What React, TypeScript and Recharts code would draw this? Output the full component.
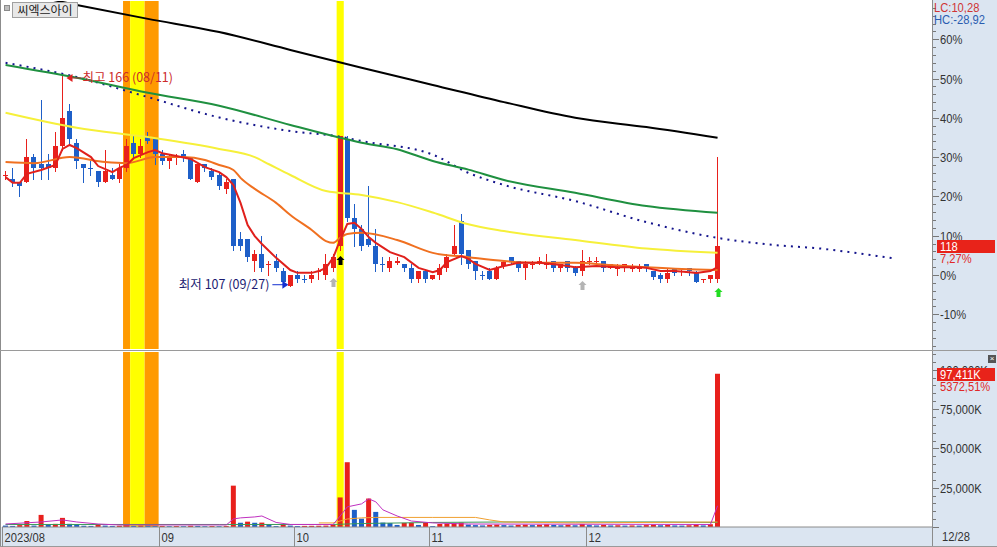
import React from "react";
import {
  ComposedChart,
  Bar,
  Line,
  XAxis,
  YAxis,
  ReferenceArea,
  ReferenceDot,
  Cell,
} from "recharts";

// ---------- data ----------
const stockName = "씨엑스아이";
const monthStarts = [0, 22, 41, 60, 82];
const monthLabels = ["2023/08", "09", "10", "11", "12"];
const lastDate = "12/28";
const infoLC = "LC:10,28";
const infoHC = "HC:-28,92";
const lastPctLabel = "7,27%";
const lastVolPctLabel = "5372,51%";
const prevClose = 110; // 0% line

// open, high, low, close  (2023/08/01 .. 2023/12/28)
const candles: [number, number, number, number][] = [
  // 08
  [138, 139, 137, 138], [137, 140, 135, 136], [136, 136, 132, 135], [136, 148, 136, 143], [143, 144, 137, 140],
  [141, 159, 137, 140], [141, 144, 137, 140], [140, 150, 139, 146], [146, 166, 145, 154], [156, 158, 147, 148],
  [147, 148, 140, 142], [141, 141, 136, 140], [140, 142, 138, 139.7], [139, 139, 135, 136], [136, 145, 136, 139],
  [138, 140, 137, 137], [137, 141, 136, 140], [140, 148, 139, 146], [147, 149, 143, 144], [144, 148, 143, 146],
  [149, 150, 147, 147.5], [148, 148, 141, 144],
  // 09
  [144, 145, 141, 142], [142, 144, 140, 143], [143, 144, 141, 143], [144, 145, 142, 143], [143, 143, 137, 137],
  [136, 141, 136, 141], [141, 141, 139, 140], [139, 140, 137, 137.5], [138, 138.5, 134, 135], [134, 137, 133, 136],
  [137, 137, 117, 118], [120, 122, 117, 118], [120, 120, 114, 115], [114, 117, 111, 116], [116, 121, 111, 112],
  [113, 114, 110, 113], [114, 116, 111, 112], [111, 112, 107.5, 108], [107, 110, 107, 110],
  // 10
  [110, 111, 108, 109], [109, 110, 108, 108.7], [109, 111, 108, 110], [111, 112, 109, 111], [110, 116, 109, 113],
  [112, 116, 111, 115], [118, 149, 117, 149], [148, 149, 125, 126], [126, 130, 118, 123], [123, 124, 117, 118],
  [120, 135, 118, 118.5], [118, 123, 111, 113], [113, 115, 111, 112.7], [112, 115, 111, 114], [113.5, 115, 113, 114],
  [113, 113, 111, 112], [112, 113, 108, 109], [109, 111, 108, 111], [111, 111, 108, 109],
  // 11
  [109, 110, 109, 110], [110, 113, 109, 112], [112, 116, 111, 115], [116, 124, 116, 118], [125, 127, 113, 116],
  [117, 117, 112, 113], [114, 114, 109, 111], [110, 111, 109, 109.7], [111, 112, 109, 109], [109, 112.5, 109, 112],
  [112.5, 114, 112, 113.6], [115, 115, 113.5, 114], [114, 114, 111, 112], [112, 114, 109, 113], [113, 114, 112, 113],
  [113, 115, 113, 114], [113, 116, 112, 113], [114, 114, 111, 112], [112, 113, 111, 113], [114, 114, 111, 112],
  [112, 112.5, 110, 110.5], [111, 117, 110, 114],
  // 12
  [114, 115, 113, 114], [114, 115, 113, 114], [114, 114, 111, 112], [112, 113, 112, 113], [112, 113, 110, 112],
  [112, 113, 111, 113], [112, 113, 111, 112], [112, 113, 111, 112], [113, 113, 111, 112], [111, 111, 109, 109.5],
  [110, 110.5, 108, 109], [109, 112, 108, 110.5], [112, 112, 110, 110.5], [111, 112, 110, 111], [112, 112, 110, 111],
  [110.5, 111, 108, 108], [109, 109, 108, 109], [109, 110, 108, 110], [109, 143, 108, 118],
];

// volume, thousand shares
const volumes = [
  900, 700, 1200, 3800, 900, 7700, 1900, 2000, 5800, 2000, 1900, 800, 700, 1900,
  900, 700, 800, 1100, 700, 900, 800, 600, 700, 500, 600, 500, 800, 700, 500, 600, 500, 700,
  26300, 2700, 3400, 2700, 2800, 1700, 600, 1300, 900, 600, 700, 750, 800, 900, 1300,
  18800, 41200, 10900, 5300, 18100, 9600, 2800, 2500, 1300, 2600, 2700, 1300, 2600, 600, 1900, 2200, 2500, 2800,
  1500, 1200, 1000, 1300, 1500, 1200, 1000, 1300, 1500, 1200, 1400, 1700, 1300, 1100, 1400, 1100, 1900, 1200,
  1000, 1300, 1000, 1100, 900, 1000, 900, 1200, 1500, 1100, 1400, 1000, 900, 1100, 1600, 1000, 1780, 97411,
];

// moving averages: [day index, price]
const ma5Pts: [number, number][] = [
  [0, 137.4], [1, 135.8], [2, 135.8], [3, 138.3], [5, 139.4], [7, 140.8], [8, 145.3], [9, 146.4], [10, 145.5],
  [12, 143.0], [13, 140.5], [15, 138.8], [16, 140.0], [17, 140.8], [18, 142.7], [20, 144.4], [21, 145.0],
  [22, 144.1], [24, 143.3], [26, 142.5], [28, 140.2], [30, 138.8], [31, 137.4], [32, 135.2], [33, 130.2],
  [34, 124.0], [35, 120.9], [36, 118.7], [38, 114.8], [40, 111.4], [41, 110.6], [43, 110.6], [44, 111.1],
  [45, 112.0], [46, 114.8], [47, 119.8], [48, 124.3], [49, 124.6], [50, 122.9], [51, 120.6], [52, 119.0],
  [54, 116.4], [56, 115.0], [58, 112.0], [60, 110.8], [61, 111.4], [62, 113.6], [64, 115.3], [65, 114.5],
  [66, 113.1], [68, 111.4], [70, 112.5], [72, 113.4], [75, 113.4], [78, 112.8], [80, 112.2], [83, 112.5],
  [86, 112.2], [89, 112.2], [90, 112.0], [92, 111.1], [94, 111.1], [96, 110.8], [97, 110.6], [99, 111.1],
  [100, 112.2],
];
const ma20Pts: [number, number][] = [
  [0, 141.6], [4, 141.3], [9, 143.0], [14, 141.6], [17, 141.3], [21, 143.0], [25, 143.0], [28, 142.2],
  [30, 140.8], [32, 139.4], [33, 137.2], [35, 134.1], [38, 130.2], [40, 126.8], [43, 122.6], [45, 119.5],
  [46, 119.0], [47, 120.4], [48, 121.5], [50, 121.8], [55, 119.8], [60, 116.2], [65, 115.0], [70, 113.9],
  [75, 113.4], [80, 113.4], [85, 112.8], [90, 112.2], [95, 111.7], [100, 111.4],
];
const ma60Pts: [number, number][] = [
  [0, 155.4], [10, 151.2], [20, 148.6], [30, 145.3], [35, 143.0], [37, 141.0], [40, 138.0], [45, 133.5],
  [50, 132.4], [55, 130.4], [60, 127.5], [65, 124.2], [70, 122.3], [80, 119.8], [90, 117.4], [100, 116.2],
];
const ma120Pts: [number, number][] = [
  [0, 168.8], [10, 165.2], [20, 161.0], [30, 157.4], [40, 152.0], [47, 148.4], [50, 147.0], [55, 145.2],
  [60, 141.9], [65, 139.5], [70, 136.6], [80, 133.0], [90, 129.3], [100, 127.4],
];
const ma240Pts: [number, number][] = [
  [0, 189.8], [10, 185.6], [20, 181.7], [30, 178.0], [40, 173.0], [50, 168.0], [60, 163.2], [70, 158.4],
  [80, 154.0], [90, 151.4], [100, 148.4],
];
const spanPts: [number, number][] = [
  [0, 169.4], [10, 165.4], [20, 159.8], [30, 154.1], [40, 150.3], [47, 148.7], [50, 147.5], [60, 143.7],
  [65, 138.6], [70, 135.2], [80, 130.7], [90, 124.8], [100, 120.4], [108, 118.4], [115, 117.3], [120, 116.0],
  [125, 114.6],
];

// volume averages, thousand shares
const volMa5Pts: [number, number][] = [
  [0, 1900], [5, 3200], [8, 4500], [10, 3200], [13, 1900], [16, 1300], [31, 1300], [32, 5100], [33, 5800],
  [35, 6400], [36, 7000], [38, 2900], [40, 1600], [46, 1600], [47, 7000], [48, 12800], [50, 14700],
  [51, 17900], [52, 16000], [53, 10900], [55, 7000], [57, 3800], [60, 2600], [65, 1900], [99, 1600],
  [100, 13500],
];
const volMa20Pts: [number, number][] = [
  [44, 2600], [46, 2600], [47, 3800], [48, 5100], [50, 5800], [52, 6100], [60, 6100], [66, 6100], [68, 4500],
  [70, 3200], [80, 2600], [100, 3200],
];
const volMa60Pts: [number, number][] = [
  [0, 1600], [30, 1600], [46, 1600], [50, 2200], [60, 2900], [70, 3200], [80, 3200], [92, 3200], [100, 2900],
];

// signal arrows: [day index, price]
const sigBlack: [number, number][] = [[47, 113.9]];
const sigGray: [number, number][] = [[46, 107.8], [81, 106.9]];
const sigGreen: [number, number][] = [[100, 105.1]];

const highMark = { i: 8, price: 166, label: "최고 166 (08/11)" };
const lowMark = { i: 40, price: 107, label: "최저 107 (09/27)" };

const orangeBands: [number, number][] = [[17, 17], [20, 21]];
const yellowBands: [number, number][] = [[18, 19], [47, 47]];

// ---------- layout ----------
const W = 997;
const H = 547;
const AXIS_W = 65;
const AX = W - AXIS_W; // 932
const PLOT_L = 2;
const N_SLOTS = 131;
const SLOT = 7.12;
const PAD_R = AX - PLOT_L - SLOT * N_SLOTS;
const PRICE_H = 350;
const P_MAX = 186.7;
const P_MIN = 89.29;
const VOL_TOP = 351;
const VOL_H = 196;
const STRIP_H = 20;
const V_MAX = 111300;

const RED = "#e8201c";
const BLUE = "#1e5fc8";
const PANEL = "#dbe5f1";
const LINE_GRAY = "#8c8c8c";
const NUM_FONT = '"Liberation Sans", Arial, sans-serif';
const KR_FONT = '"Noto Sans CJK KR", "Noto Sans", sans-serif';
const NARROW = 0.86;

const lastClose = candles[candles.length - 1][3];
const lastVol = volumes[volumes.length - 1];

const lookup = (pts: [number, number][]) => {
  const m = new Map(pts);
  return (i: number) => (m.has(i) ? (m.get(i) as number) : null);
};
const f5 = lookup(ma5Pts), f20 = lookup(ma20Pts), f60 = lookup(ma60Pts);
const f120 = lookup(ma120Pts), f240 = lookup(ma240Pts), fSpan = lookup(spanPts);
const fv5 = lookup(volMa5Pts), fv20 = lookup(volMa20Pts), fv60 = lookup(volMa60Pts);
const fBlack = lookup(sigBlack), fGray = lookup(sigGray), fGreen = lookup(sigGreen);

const rows = Array.from({ length: N_SLOTS }, (_, i) => {
  const cd = candles[i];
  return {
    i,
    o: cd ? cd[0] : null,
    h: cd ? cd[1] : null,
    l: cd ? cd[2] : null,
    c: cd ? cd[3] : null,
    vol: volumes[i] ?? null,
    ma5: f5(i), ma20: f20(i), ma60: f60(i), ma120: f120(i), ma240: f240(i), span: fSpan(i),
    v5: fv5(i), v20: fv20(i), v60: fv60(i),
    sb: fBlack(i), sg: fGray(i), sgr: fGreen(i),
  };
});

const volColors = volumes.map((v, i) => (i === 0 || v < volumes[i - 1] ? BLUE : RED));

const priceTicks = [
  ...Array.from({ length: 45 }, (_, k) => prevClose * (1 + (-20 + k * 2) / 100)).filter(
    (v) => v > P_MIN && v < P_MAX
  ),
  lastClose,
];
const volTicks = [...Array.from({ length: 23 }, (_, k) => k * 5000), lastVol];

// ---------- shapes ----------
function NText({ x, y, fill, children }: any) {
  return (
    <text
      transform={`translate(${x},${y}) scale(${NARROW},1)`}
      dy={4.5}
      fontSize={13}
      fill={fill}
      fontFamily={NUM_FONT}
    >
      {children}
    </text>
  );
}

function Candle(props: any) {
  const { x, y, width, height, payload } = props;
  if (payload == null || payload.h == null) return null;
  const k = height / (payload.h - P_MIN);
  const yOf = (v: number) => y + (payload.h - v) * k;
  const up = payload.c >= payload.o;
  const col = up ? RED : BLUE;
  const bx = Math.round(x + width / 2 - 2.5);
  const wx = bx + 2.5;
  const top = Math.round(yOf(Math.max(payload.o, payload.c)));
  const bot = Math.round(yOf(Math.min(payload.o, payload.c)));
  return (
    <g>
      <line x1={wx} x2={wx} y1={Math.round(yOf(payload.h))} y2={Math.round(yOf(payload.l)) + 1} stroke={col} />
      <rect x={bx} y={top} width={5} height={Math.max(1, bot - top)} fill={col} />
    </g>
  );
}

const arrowDot = (color: string) => (p: any) => {
  if (p.value == null || p.cy == null) return <g key={`a${p.index}`} />;
  const cx = Math.round(p.cx) + 0.5;
  const cy = Math.round(p.cy);
  return (
    <path
      key={`a${p.index}`}
      d={`M${cx},${cy - 5} L${cx + 4},${cy - 1} L${cx + 2},${cy - 1} L${cx + 2},${cy + 4} L${cx - 2},${cy + 4} L${cx - 2},${cy - 1} L${cx - 4},${cy - 1} Z`}
      fill={color}
    />
  );
};

function HighLabel(p: any) {
  const cx = p.cx;
  const cy = p.cy + 3;
  return (
    <g>
      <path d={`M${cx + 4},${cy} l6,-4 v8 z`} fill="#e02020" />
      <line x1={cx + 9} x2={cx + 19} y1={cy} y2={cy} stroke="#b03030" />
      <text x={cx + 20} y={cy} dy={4.5} fontSize={12.5} fill="#cc2a2a" fontFamily={KR_FONT}>
        {highMark.label}
      </text>
    </g>
  );
}

function LowLabel(p: any) {
  const cx = p.cx;
  const cy = p.cy - 1;
  return (
    <g>
      <line x1={cx - 18} x2={cx - 7} y1={cy} y2={cy} stroke="#1430d0" />
      <path d={`M${cx - 2},${cy} l-6,-4 v8 z`} fill="#1430d0" />
      <text x={cx - 21} y={cy} dy={4.5} textAnchor="end" fontSize={12.5} fill="#1c1c72" fontFamily={KR_FONT}>
        {lowMark.label}
      </text>
    </g>
  );
}

function PriceTick(props: any) {
  const { y, payload } = props;
  const v = payload.value as number;
  const yy = Math.round(y) + 0.5;
  if (v === lastClose) {
    return (
      <g>
        <rect x={AX + 5} y={Math.round(y) - 6} width={58} height={13} fill="#e8231a" />
        <NText x={AX + 8} y={yy} fill="#fff">{lastClose}</NText>
        <NText x={AX + 8} y={yy + 12} fill="#e02828">{lastPctLabel}</NText>
      </g>
    );
  }
  const pct = Math.round((v / prevClose - 1) * 100);
  const major = pct % 10 === 0;
  return (
    <g>
      <line x1={AX + 1} x2={AX + (major ? 7 : 4)} y1={yy} y2={yy} stroke="#777" />
      {major && <NText x={AX + 8} y={yy} fill="#333">{`${pct}%`}</NText>}
    </g>
  );
}

function VolTick(props: any) {
  const { y, payload } = props;
  const v = payload.value as number;
  const yy = Math.round(y) + 0.5;
  if (v === lastVol) {
    return (
      <g>
        <rect x={AX + 5} y={Math.round(y) - 6} width={58} height={13} fill="#e8231a" />
        <NText x={AX + 8} y={yy} fill="#fff">{`${v.toLocaleString("en-US")}K`}</NText>
        <NText x={AX + 8} y={yy + 12} fill="#e02828">{lastVolPctLabel}</NText>
      </g>
    );
  }
  const major = v % 25000 === 0;
  return (
    <g>
      <line x1={AX + 1} x2={AX + (major ? 7 : 4)} y1={yy} y2={yy} stroke="#777" />
      {major && v > 0 && <NText x={AX + 8} y={yy} fill="#333">{`${v.toLocaleString("en-US")}K`}</NText>}
    </g>
  );
}

function MonthTick(props: any) {
  const { x, payload } = props;
  const idx = monthStarts.indexOf(payload.value);
  const left = Math.round(x - SLOT / 2) + 0.5;
  const top = VOL_H - STRIP_H;
  return (
    <g>
      <line x1={left} x2={left} y1={top} y2={top + STRIP_H} stroke={LINE_GRAY} />
      <NText x={left + 2} y={top + 10} fill="#333">{monthLabels[idx]}</NText>
    </g>
  );
}

const bands = (
  <>
    {orangeBands.map(([a, b], k) => (
      <ReferenceArea key={`o${k}`} x1={a} x2={b} fill="#ff9a00" fillOpacity={1} stroke="none" ifOverflow="visible" />
    ))}
    {yellowBands.map(([a, b], k) => (
      <ReferenceArea key={`y${k}`} x1={a} x2={b} fill="#ffff00" fillOpacity={1} stroke="none" ifOverflow="visible" />
    ))}
  </>
);

const abs = (l: number, t: number, w: number, h: number, extra: any = {}) => ({
  position: "absolute" as const,
  left: l,
  top: t,
  width: w,
  height: h,
  ...extra,
});

const narrowCss = { transform: `scaleX(${NARROW})`, transformOrigin: "0 0", whiteSpace: "nowrap" as const };

export default function App() {
  return (
    <div style={abs(0, 0, W, H, { background: "#fff", overflow: "hidden", fontFamily: NUM_FONT })}>
      <div style={abs(AX, 0, W - AX, H, { background: PANEL, borderLeft: `1px solid ${LINE_GRAY}`, boxSizing: "border-box" })} />
      <div style={abs(0, VOL_TOP + VOL_H - STRIP_H, AX, STRIP_H, { background: PANEL })} />
      <div style={abs(0, 0, 1, H, { background: LINE_GRAY })} />
      <div style={abs(0, PRICE_H, W, 1, { background: "#9a9a9a" })} />
      <div style={abs(0, H - 1, W, 1, { background: "#9a9a9a" })} />

      {/* price panel */}
      <div style={abs(0, 0, W, PRICE_H)}>
        <ComposedChart width={W} height={PRICE_H} data={rows} margin={{ top: 1, right: 0, bottom: 1, left: PLOT_L }}>
          <XAxis dataKey="i" type="category" hide padding={{ left: 0, right: PAD_R }} />
          <YAxis
            orientation="right"
            width={AXIS_W}
            type="number"
            domain={[P_MIN, P_MAX]}
            allowDataOverflow
            ticks={priceTicks}
            interval={0}
            tickLine={false}
            axisLine={false}
            tick={(p: any) => <PriceTick {...p} />}
          />
          {bands}
          <Bar dataKey={(d: any) => (d.h == null ? null : [P_MIN, d.h])} barSize={5} shape={(p: any) => <Candle {...p} />} isAnimationActive={false} />
          <Line type="monotone" dataKey="ma240" stroke="#000" strokeWidth={2} dot={false} connectNulls isAnimationActive={false} />
          <Line type="monotone" dataKey="span" stroke="#14148c" strokeWidth={2} strokeDasharray="2 5.1" dot={false} connectNulls isAnimationActive={false} />
          <Line type="monotone" dataKey="ma120" stroke="#1f9040" strokeWidth={2} dot={false} connectNulls isAnimationActive={false} />
          <Line type="monotone" dataKey="ma60" stroke="#f6f03a" strokeWidth={2} dot={false} connectNulls isAnimationActive={false} />
          <Line type="monotone" dataKey="ma20" stroke="#f07020" strokeWidth={2} dot={false} connectNulls isAnimationActive={false} />
          <Line dataKey="ma5" stroke="#e0201c" strokeWidth={2} dot={false} connectNulls isAnimationActive={false} />
          <Line dataKey="sb" stroke="none" dot={arrowDot("#000")} activeDot={false} isAnimationActive={false} />
          <Line dataKey="sg" stroke="none" dot={arrowDot("#b4b4b4")} activeDot={false} isAnimationActive={false} />
          <Line dataKey="sgr" stroke="none" dot={arrowDot("#22dd22")} activeDot={false} isAnimationActive={false} />
          <ReferenceDot x={highMark.i} y={highMark.price} r={0} ifOverflow="visible" shape={(p: any) => <HighLabel {...p} />} />
          <ReferenceDot x={lowMark.i} y={lowMark.price} r={0} ifOverflow="visible" shape={(p: any) => <LowLabel {...p} />} />
        </ComposedChart>
      </div>

      {/* volume panel */}
      <div style={abs(0, VOL_TOP, W, VOL_H)}>
        <ComposedChart width={W} height={VOL_H} data={rows} margin={{ top: 1, right: 0, bottom: 0, left: PLOT_L }}>
          <XAxis
            dataKey="i"
            type="category"
            height={STRIP_H}
            padding={{ left: 0, right: PAD_R }}
            ticks={monthStarts}
            interval={0}
            tickLine={false}
            axisLine={{ stroke: LINE_GRAY }}
            tick={(p: any) => <MonthTick {...p} />}
          />
          <YAxis
            orientation="right"
            width={AXIS_W}
            type="number"
            domain={[0, V_MAX]}
            allowDataOverflow
            ticks={volTicks}
            interval={0}
            tickLine={false}
            axisLine={false}
            tick={(p: any) => <VolTick {...p} />}
          />
          {bands}
          <Bar dataKey="vol" barSize={5} isAnimationActive={false}>
            {rows.map((r, k) => (
              <Cell key={k} fill={volColors[k] ?? BLUE} />
            ))}
          </Bar>
          <Line dataKey="v60" stroke="#3a9a5a" strokeWidth={1} dot={false} connectNulls isAnimationActive={false} />
          <Line dataKey="v20" stroke="#f0a030" strokeWidth={1} dot={false} connectNulls isAnimationActive={false} />
          <Line dataKey="v5" stroke="#c030c0" strokeWidth={1} dot={false} connectNulls isAnimationActive={false} />
        </ComposedChart>
      </div>

      {/* overlays */}
      <div style={abs(4, 5, 6, 6, { background: "#bdbdbd", border: "1px solid #8a8a8a", boxSizing: "border-box" })} />
      <div
        style={abs(12, 2, 66, 16, {
          background: "#e8e8e8",
          border: "1px solid #a0a0a0",
          boxSizing: "border-box",
          fontFamily: KR_FONT,
          fontSize: 12,
          lineHeight: "14px",
          textAlign: "center",
          color: "#222",
        })}
      >
        {stockName}
      </div>
      <div style={abs(AX + 2, 1, 70, 14, { color: "#d03434", fontSize: 13, lineHeight: "14px", ...narrowCss })}>{infoLC}</div>
      <div style={abs(AX + 2, 13, 70, 14, { color: "#2a5cb0", fontSize: 13, lineHeight: "14px", ...narrowCss })}>{infoHC}</div>
      <div style={abs(988, 355, 8, 8, { background: "#555", color: "#fff", fontSize: 8, lineHeight: "8px", textAlign: "center" })}>×</div>
      <div style={abs(AX + 10, VOL_TOP + VOL_H - STRIP_H + 1, 50, 18, { color: "#333", fontSize: 13, lineHeight: "18px", ...narrowCss })}>
        {lastDate}
      </div>
    </div>
  );
}
